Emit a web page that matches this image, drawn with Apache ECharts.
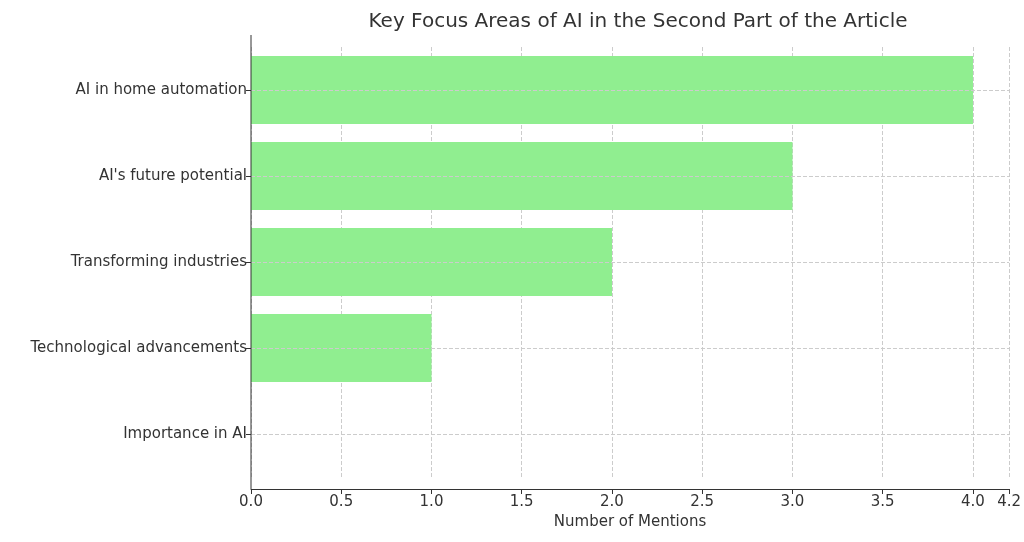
<!DOCTYPE html>
<html><head><meta charset="utf-8">
<script src="https://cdn.jsdelivr.net/npm/echarts@6/dist/echarts.min.js"></script>
<style>html,body{margin:0;background:#fff}#c{width:1024px;height:542px}</style>
</head><body><div id="c"></div>
<script>
var categories = ['Importance in AI', 'Technological advancements', 'Transforming industries', "AI's future potential", 'AI in home automation'];
var mentions = [0, 1, 2, 3, 4];

var chart = echarts.init(document.getElementById('c'));
var font = 'DejaVu Sans';
chart.setOption({
  animation: false,
  textStyle: { fontFamily: font },
  title: { text: 'Key Focus Areas of AI in the Second Part of the Article', left: 633, top: 7, textAlign: 'center',
    textStyle: { fontFamily: font, fontSize: 20, fontWeight: 'normal', color: '#333' } },
  grid: { left: 251, right: 10, top: 47, bottom: 65 },
  xAxis: {
    type: 'value', min: 0, max: 4.2, interval: 0.5, offset: 12,
    name: 'Number of Mentions', nameLocation: 'middle', nameGap: 22,
    nameTextStyle: { fontFamily: font, fontSize: 15, color: '#333' },
    axisLine: { show: true, lineStyle: { color: '#333' } },
    axisTick: { show: true, length: 5, lineStyle: { color: '#333' } },
    axisLabel: { fontFamily: font, fontSize: 15, color: '#333', margin: 6,
      formatter: function (v) { return v.toFixed(1); } },
    splitLine: { show: true, lineStyle: { type: 'dashed', color: '#ccc' } }
  },
  yAxis: {
    type: 'category', data: categories,
    axisLine: { show: false },
    axisTick: { show: true, alignWithLabel: true, length: 5, lineStyle: { color: '#333' } },
    axisLabel: { fontFamily: font, fontSize: 15, color: '#333', margin: 4 },
    splitLine: { show: false }
  },
  graphic: [
    { type: 'line', shape: { x1: 251, y1: 35, x2: 251, y2: 489 }, style: { stroke: '#333', lineWidth: 1 }, z: 10 },
    { type: 'line', shape: { x1: 251, y1: 35, x2: 251, y2: 35 }, style: { stroke: '#333' } }
  ],
  series: [{
    type: 'bar', data: mentions, barWidth: 68,
    itemStyle: { color: '#90ee90' },
    markLine: {
      silent: true, symbol: 'none', label: { show: false },
      lineStyle: { type: 'dashed', color: '#ccc', width: 1 },
      data: categories.map(function (c) { return { yAxis: c }; })
    }
  }]
});
</script></body></html>
